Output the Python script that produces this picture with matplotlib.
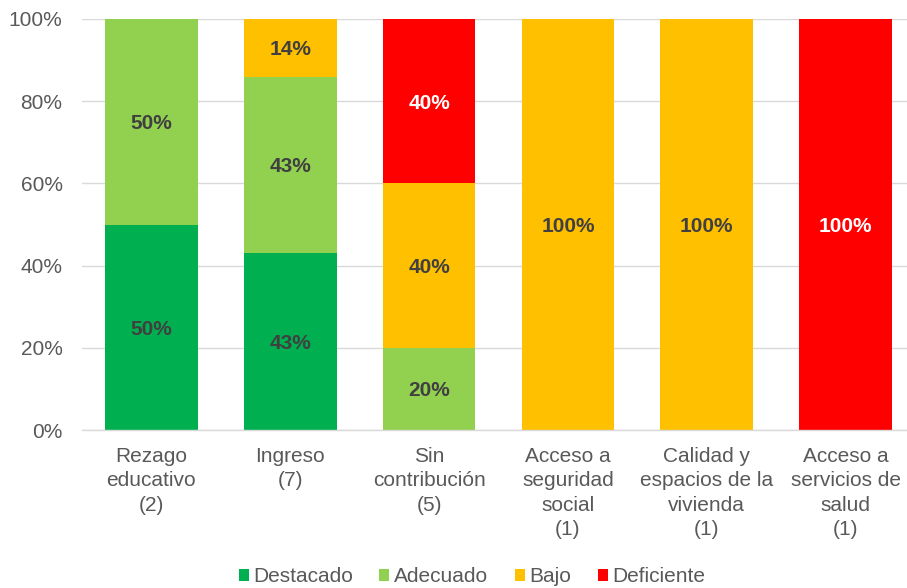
import matplotlib.pyplot as plt
import numpy as np

plt.rcParams['font.family'] = ['Liberation Sans', 'DejaVu Sans']

categories = ["Rezago\neducativo\n(2)", "Ingreso\n(7)", "Sin\ncontribución\n(5)",
              "Acceso a\nseguridad\nsocial\n(1)", "Calidad y\nespacios de la\nvivienda\n(1)",
              "Acceso a\nservicios de\nsalud\n(1)"]
series = ["Destacado", "Adecuado", "Bajo", "Deficiente"]
destacado = [50, 43, 0, 0, 0, 0]
adecuado = [50, 43, 20, 0, 0, 0]
bajo = [0, 14, 40, 100, 100, 0]
deficiente = [0, 0, 40, 0, 0, 100]

colors = ["#00B050", "#92D050", "#FFC000", "#FF0000"]
label_colors = ["#404040", "#404040", "#404040", "white"]

fig = plt.figure(figsize=(9.07, 5.88), dpi=100)
ax = fig.add_axes([82 / 907, 158 / 588, 833 / 907, 411 / 588])

x = np.arange(len(categories))
bottom = np.zeros(len(categories))
for name, vals, c, lc in zip(series, [destacado, adecuado, bajo, deficiente], colors, label_colors):
    vals = np.array(vals, dtype=float)
    ax.bar(x, vals, 0.667, bottom=bottom, color=c, label=name, zorder=2)
    for xi, v, b in zip(x, vals, bottom):
        if v > 0:
            ax.text(xi, b + v / 2, f"{int(v)}%", ha="center", va="center_baseline",
                    fontsize=15, fontweight="bold", color=lc, zorder=3)
    bottom += vals

ax.set_xlim(-0.5, len(categories) - 0.5)
ax.set_ylim(0, 100)
ax.set_yticks(range(0, 101, 20))
ax.set_yticklabels([f"{v}%" for v in range(0, 101, 20)])
ax.set_xticks(x)
ax.set_xticklabels(categories, linespacing=1.37)
ax.tick_params(axis="both", length=0, labelsize=15, colors="#595959")
ax.tick_params(axis="y", pad=14)
ax.tick_params(axis="x", pad=12)
ax.yaxis.grid(True, color="#D9D9D9", linewidth=1, zorder=0)
for s in ["top", "right", "left"]:
    ax.spines[s].set_visible(False)
ax.spines["bottom"].set_color("#D9D9D9")
ax.spines["bottom"].set_linewidth(1)

leg = fig.legend(loc="center", bbox_to_anchor=(472 / 907, 1 - 577 / 588), ncol=4, frameon=False,
                 fontsize=15, handlelength=0.48, handleheight=0.48, handletextpad=0.24,
                 columnspacing=1.25)
for t in leg.get_texts():
    t.set_color("#595959")

fig.savefig("out.png", dpi=100)
